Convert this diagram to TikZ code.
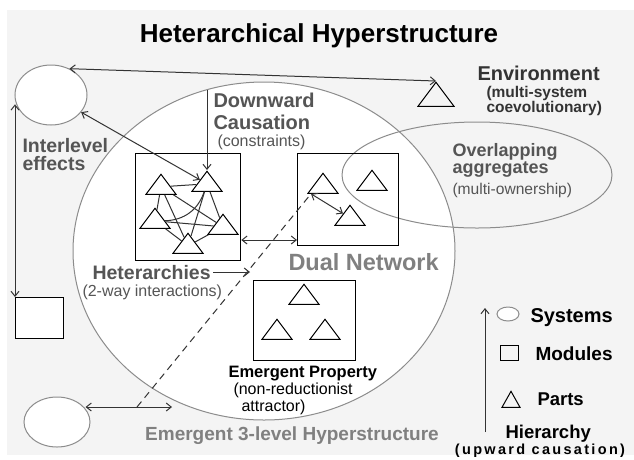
\documentclass[tikz,border=0pt]{standalone}
\usepackage{fontspec}
\setmainfont{Liberation Sans}
\usetikzlibrary{arrows.meta,positioning,shapes.geometric}
\definecolor{bggray}{HTML}{F4F4F4}
\definecolor{txtgray}{HTML}{555555}
\definecolor{palegray}{HTML}{808080}
\definecolor{rimgray}{HTML}{8C8C8C}
\definecolor{linegray}{HTML}{333333}
\newcommand{\fs}[2]{\fontsize{#1}{#2}\selectfont}

\begin{document}
\begin{tikzpicture}[
    x=1pt,y=-1pt,line width=1pt,
    sys/.style={ellipse,draw=rimgray,fill=white,inner sep=0pt},
    modbox/.style={draw=black,line width=1.3pt,inner sep=0pt,anchor=north west},
    part/.style={isosceles triangle,isosceles triangle stretches,shape border rotate=90,
                 minimum width=30pt,minimum height=20pt,inner sep=0pt,draw=black,anchor=apex},
    arr/.style={-{Straight Barb[length=5pt,width=8pt]},linegray},
    dbl/.style={{Straight Barb[length=5pt,width=8pt]}-{Straight Barb[length=5pt,width=8pt]},linegray},
    lbl/.style={inner sep=0pt,align=left,font=\bfseries\fs{20}{20}},
    sub/.style={inner sep=0pt,align=left,font=\fs{16}{17}},
  ]
  \useasboundingbox (0,0) rectangle (634,459);
  \fill[white] (0,0) rectangle (634,459);
  \fill[bggray] (7,10) rectangle (634,455);

  \node[font=\bfseries\fs{26}{26},anchor=base] (title) at (319,42) {Heterarchical Hyperstructure};

  % levels
  \node[ellipse,draw=rimgray,fill=white,minimum width=382pt,minimum height=338pt] (hyper) at (264,251) {};
  \node[ellipse,draw=rimgray,minimum width=270pt,minimum height=106pt] (aggr) at (477,175) {};
  \node[sys,minimum width=72pt,minimum height=60pt] (sysA) at (51,95) {};
  \node[sys,minimum width=66pt,minimum height=50pt] (sysB) at (57,422) {};
  \node[modbox,fill=white,minimum width=48pt,minimum height=41pt] (mod) at (15,297) {};
  \node[modbox,minimum width=105pt,minimum height=107pt] (het) at (135,153) {};
  \node[modbox,minimum width=101pt,minimum height=92pt] (dual) at (297,153) {};
  \node[modbox,minimum width=102pt,minimum height=80pt] (emerg) at (253,280) {};

  % parts
  \node[part] (t1) at (161,173) {};
  \node[part] (t2) at (207,170) {};
  \node[part] (t3) at (155,207) {};
  \node[part] (t4) at (223,213) {};
  \node[part] (t5) at (188,232) {};
  \node[part] (ta) at (323,172) {};
  \node[part] (tb) at (372,169) {};
  \node[part] (tc) at (350,204) {};
  \node[part] (te1) at (304,283) {};
  \node[part] (te2) at (277,318) {};
  \node[part] (te3) at (325,318) {};
  \node[part,minimum width=36pt,minimum height=24pt] (env) at (436,81) {};

  \foreach \a/\b in {t1/t2,t1/t3,t1/t4,t1/t5,t2/t4,t2/t5,t3/t4,t3/t5,t4/t5}
    \draw[linegray] (\a) -- (\b);
  \draw[linegray] (t2) to[bend left=35] (t3);

  % connectors
  \coordinate (dctop) at (207,90);
  \coordinate (dashfoot) at (137,407);
  \coordinate (sysBend) at (172,407);
  \draw[dbl] (sysA.55) -- (env.apex);
  \draw[dbl] (sysA) -- (t2);
  \draw[dbl] (sysA.195 -| mod.north west) -- (mod.north west);
  \draw[arr] (dctop) -- (t2.apex);
  \draw[dbl] (het.east |- 0,240) -- (dual.west |- 0,240);
  \draw[dbl] ([xshift=4pt]ta.left corner) -- (tc);
  \draw[linegray,dash pattern=on 7pt off 5pt] (dashfoot) -- ([xshift=4pt]ta.left corner);
  \draw[dbl] (sysB.25 |- sysBend) -- (sysBend);

  % labels
  \node[lbl,txtgray,anchor=north west,font=\bfseries\fs{19.5}{18}] (interlevel) at (22,138) {Interlevel\\effects};
  \node[lbl,txtgray,anchor=north west,font=\bfseries\fs{20}{22}] (downward) at (213,93) {Downward\\Causation};
  \node[sub,txtgray,anchor=base west] (constr) at (217,146) {(constraints)};
  \node[lbl,linegray,anchor=base west] (envlbl) at (477,80) {Environment};
  \node[lbl,linegray,anchor=north west,font=\bfseries\fs{15.5}{15}] (envsub) at (486,86) {(multi-system\\coevolutionary)};
  \node[lbl,txtgray,anchor=north west,font=\bfseries\fs{18}{17}] (overlap) at (452,143) {Overlapping\\aggregates};
  \node[sub,txtgray,anchor=base west,font=\fs{15.6}{16}] (owner) at (452,194) {(multi-ownership)};
  \node[lbl,txtgray,anchor=base west,font=\bfseries\fs{19.5}{20}] (hetlbl) at (92,279) {Heterarchies};
  \node[sub,txtgray,anchor=base west] (hetsub) at (82,296) {(2-way interactions)};
  \draw[arr] ([xshift=2pt]hetlbl.east) -- ([xshift=-3pt]emerg.west |- hetlbl.east);
  \node[lbl,palegray,anchor=base west,font=\bfseries\fs{23.5}{24}] (duallbl) at (288,270) {Dual Network};
  \node[lbl,anchor=base west,font=\bfseries\fs{16.5}{17}] (emerglbl) at (228,377) {Emergent Property};
  \node[sub,anchor=north west] (emergsub) at (233,382) {(non-reductionist\\\hspace*{8pt}attractor)};
  \node[lbl,palegray,anchor=base,font=\bfseries\fs{19}{19}] (hyperlbl) at (292,440) {Emergent 3-level Hyperstructure};

  % key
  \node[sys,minimum width=22pt,minimum height=14pt] (keysys) at (508,314) {};
  \node[modbox,minimum width=18pt,minimum height=15pt] (keymod) at (500,345) {};
  \node[part,minimum width=18pt,minimum height=16pt] (keypart) at (511,390) {};
  \node[lbl,anchor=base west] (syslbl) at (530,322) {Systems};
  \node[lbl,anchor=base west,font=\bfseries\fs{19}{19}] (modlbl) at (535,360) {Modules};
  \node[lbl,anchor=base west,font=\bfseries\fs{18.5}{19}] (partlbl) at (537,405) {Parts};
  \node[lbl,anchor=base west,font=\bfseries\fs{18.5}{19}] (hierlbl) at (505,438) {Hierarchy};
  \node[lbl,anchor=base,font=\bfseries\fs{14.5}{15}\addfontfeature{LetterSpace=16}] (hiersub) at (540,454) {(upward causation)};
  \coordinate (hierbot) at (485,432);
  \coordinate (hiertop) at (485,308);
  \draw[arr] (hierbot) -- (hiertop);
\end{tikzpicture}
\end{document}
